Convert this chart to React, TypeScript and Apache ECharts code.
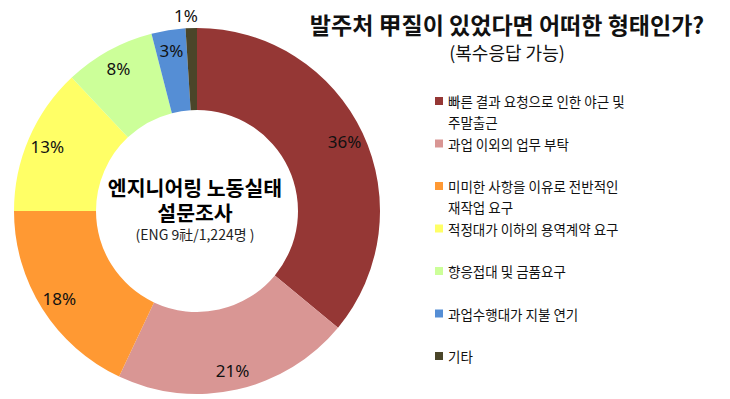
import React, { useEffect, useRef } from "react";
import * as echarts from "echarts";

const categories = [
  "빠른 결과 요청으로 인한 야근 및\n주말출근",
  "과업 이외의 업무 부탁",
  "미미한 사항을 이유로 전반적인\n재작업 요구",
  "적정대가 이하의 용역계약 요구",
  "향응접대 및 금품요구",
  "과업수행대가 지불 연기",
  "기타",
];
const values = [36, 21, 18, 13, 8, 3, 1];
const colors = ["#953735", "#D99694", "#FF9933", "#FFFF66", "#CCFF99", "#558ED5", "#4A4529"];

const titleText = "발주처 甲질이 있었다면 어떠한 형태인가?";
const subtitleText = "(복수응답 가능)";
const centerLines = ["엔지니어링 노동실태", "설문조사"];
const centerSub = "(ENG 9社/1,224명 )";

const KR = '"Noto Sans CJK KR", "Noto Sans", sans-serif';

export default function App() {
  const ref = useRef<HTMLDivElement>(null);
  useEffect(() => {
    document.body.style.margin = "0";
    const chart = echarts.init(ref.current!, null, { renderer: "svg" });
    const lastIdx = values.length - 1;
    const txt = (x: number, y: number, text: string, font: string, fill: string) => ({
      type: "text",
      x,
      y,
      style: { text, font, fill, align: "center", verticalAlign: "middle" },
    });
    chart.setOption({
      animation: false,
      backgroundColor: "#ffffff",
      legend: {
        orient: "vertical",
        left: 435,
        top: 69.5,
        padding: 0,
        itemGap: -20.5,
        itemWidth: 8,
        itemHeight: 8,
        icon: "rect",
        selectedMode: false,
        data: categories,
        formatter: (name: string) => (name.includes("\n") ? "\n" + name : "\n" + name + "\n"),
        textStyle: { fontFamily: KR, fontSize: 13.5, color: "#111", lineHeight: 21 },
      },
      graphic: [
        txt(507, 24, titleText, `bold 23px ${KR}`, "#111"),
        txt(507, 52, subtitleText, `18px ${KR}`, "#111"),
        txt(195, 187, centerLines[0], `bold 20.5px ${KR}`, "#000"),
        txt(195, 212, centerLines[1], `bold 20.5px ${KR}`, "#000"),
        txt(195, 234, centerSub, `14px ${KR}`, "#222"),
      ],
      series: [
        {
          type: "pie",
          name: "main",
          radius: [101, 183],
          center: [197, 211],
          startAngle: 90,
          clockwise: true,
          silent: true,
          label: { show: false },
          labelLine: { show: false },
          itemStyle: { borderWidth: 0 },
          data: categories.map((c, i) => ({ name: c, value: values[i], itemStyle: { color: colors[i] } })),
        },
        {
          type: "pie",
          name: "labels",
          radius: [137, 183],
          center: [197, 211],
          startAngle: 90,
          clockwise: true,
          silent: true,
          avoidLabelOverlap: false,
          legendHoverLink: false,
          itemStyle: { color: "rgba(0,0,0,0)", borderWidth: 0 },
          label: {
            show: true,
            position: "inside",
            formatter: "{c}%",
            fontFamily: '"Noto Sans", sans-serif',
            fontSize: 17,
            color: "#111",
          },
          labelLayout: (p: any) => (p.dataIndex === lastIdx ? { align: "center" } : {}),
          data: categories.map((c, i) =>
            i === lastIdx
              ? {
                  name: c,
                  value: values[i],
                  label: { position: "outside" },
                  labelLine: { show: false, length: 13, length2: 0 },
                }
              : { name: c, value: values[i] }
          ),
        },
      ],
    });
    return () => chart.dispose();
  }, []);
  return <div ref={ref} style={{ width: 730, height: 399 }} />;
}
